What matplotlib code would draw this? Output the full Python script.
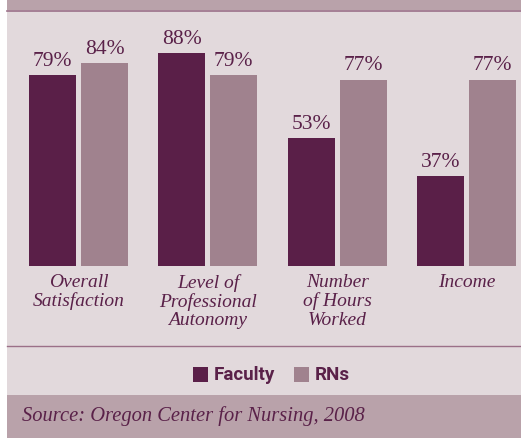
import numpy as np
import matplotlib
matplotlib.use("Agg")
import matplotlib.pyplot as plt
from matplotlib.patches import Rectangle

categories = ["Overall\nSatisfaction", "Level of\nProfessional\nAutonomy",
              "Number\nof Hours\nWorked", "Income"]
faculty = [79, 88, 53, 37]
rns = [84, 79, 77, 77]
series_names = ["Faculty", "RNs"]
source = "Source: Oregon Center for Nursing, 2008"

W, H = 521, 438
c_fac = "#5a1f48"
c_rn = "#a0828e"
c_bg = "#e2d9dc"
c_band = "#b9a2aa"
c_text = "#5a2149"
c_line = "#9b7088"

fig = plt.figure(figsize=(W / 100, H / 100), dpi=100)
fig.patch.set_facecolor("white")


def fx(px):
    return px / W


def fy(py):
    return 1 - py / H


# background panels (behind the axes)
fig.patches.append(Rectangle((fx(7), 0), 1, 1, transform=fig.transFigure,
                             facecolor=c_bg, edgecolor="none", zorder=-2))
fig.patches.append(Rectangle((fx(7), fy(10)), 1, 1, transform=fig.transFigure,
                             facecolor=c_band, edgecolor="none", zorder=-1))
fig.patches.append(Rectangle((fx(7), 0), 1, fy(395), transform=fig.transFigure,
                             facecolor=c_band, edgecolor="none", zorder=-1))
fig.lines.append(plt.Line2D([fx(7), 1], [fy(10.5), fy(10.5)], transform=fig.transFigure,
                            color=c_line, lw=1.2))
fig.lines.append(plt.Line2D([fx(7), 1], [fy(346), fy(346)], transform=fig.transFigure,
                            color=c_line, lw=1.0))

# bar axes: baseline at y=266px, 2.42 px per percent, 129.3 px per group
ax = fig.add_axes([fx(7), fy(266), 1 - fx(7), (266 - 10) / H])
ax.set_facecolor("none")
step = 129.3
x = np.arange(len(categories))
bw = 47 / step
off = 26 / step
ax.set_xlim(-(78.5 - 7) / step, (521 - 78.5) / step)
ax.set_ylim(0, 256 / 2.42)

b1 = ax.bar(x - off, faculty, bw, color=c_fac)
b2 = ax.bar(x + off, rns, bw, color=c_rn)
for bars, vals in ((b1, faculty), (b2, rns)):
    for b, v in zip(bars, vals):
        ax.annotate(f"{v}%", (b.get_x() + b.get_width() / 2, v), xytext=(0, 3),
                    textcoords="offset points", ha="center", va="bottom",
                    fontsize=15.5, family="Liberation Serif", color=c_text)
ax.axis("off")

# category labels
for i, cat in enumerate(categories):
    xc = 78.5 + i * step
    fig.text(fx(xc), fy(274), cat, ha="center", va="top", fontsize=14,
             style="italic", family="Liberation Serif", color=c_text, linespacing=1.1)

# legend
for px, name, col in ((193, series_names[0], c_fac), (294, series_names[1], c_rn)):
    fig.patches.append(Rectangle((fx(px), fy(382)), fx(15), 15 / H, transform=fig.transFigure,
                                 facecolor=col, edgecolor="none"))
    fig.text(fx(px + 21), fy(374.5), name, ha="left", va="center", fontsize=13.5,
             weight="bold", family="Roboto", color=c_text)

fig.text(fx(22), fy(416), source, ha="left", va="center", fontsize=14.8,
         style="italic", family="Liberation Serif", color=c_text)

fig.savefig("out.png", dpi=100, facecolor=fig.get_facecolor())
